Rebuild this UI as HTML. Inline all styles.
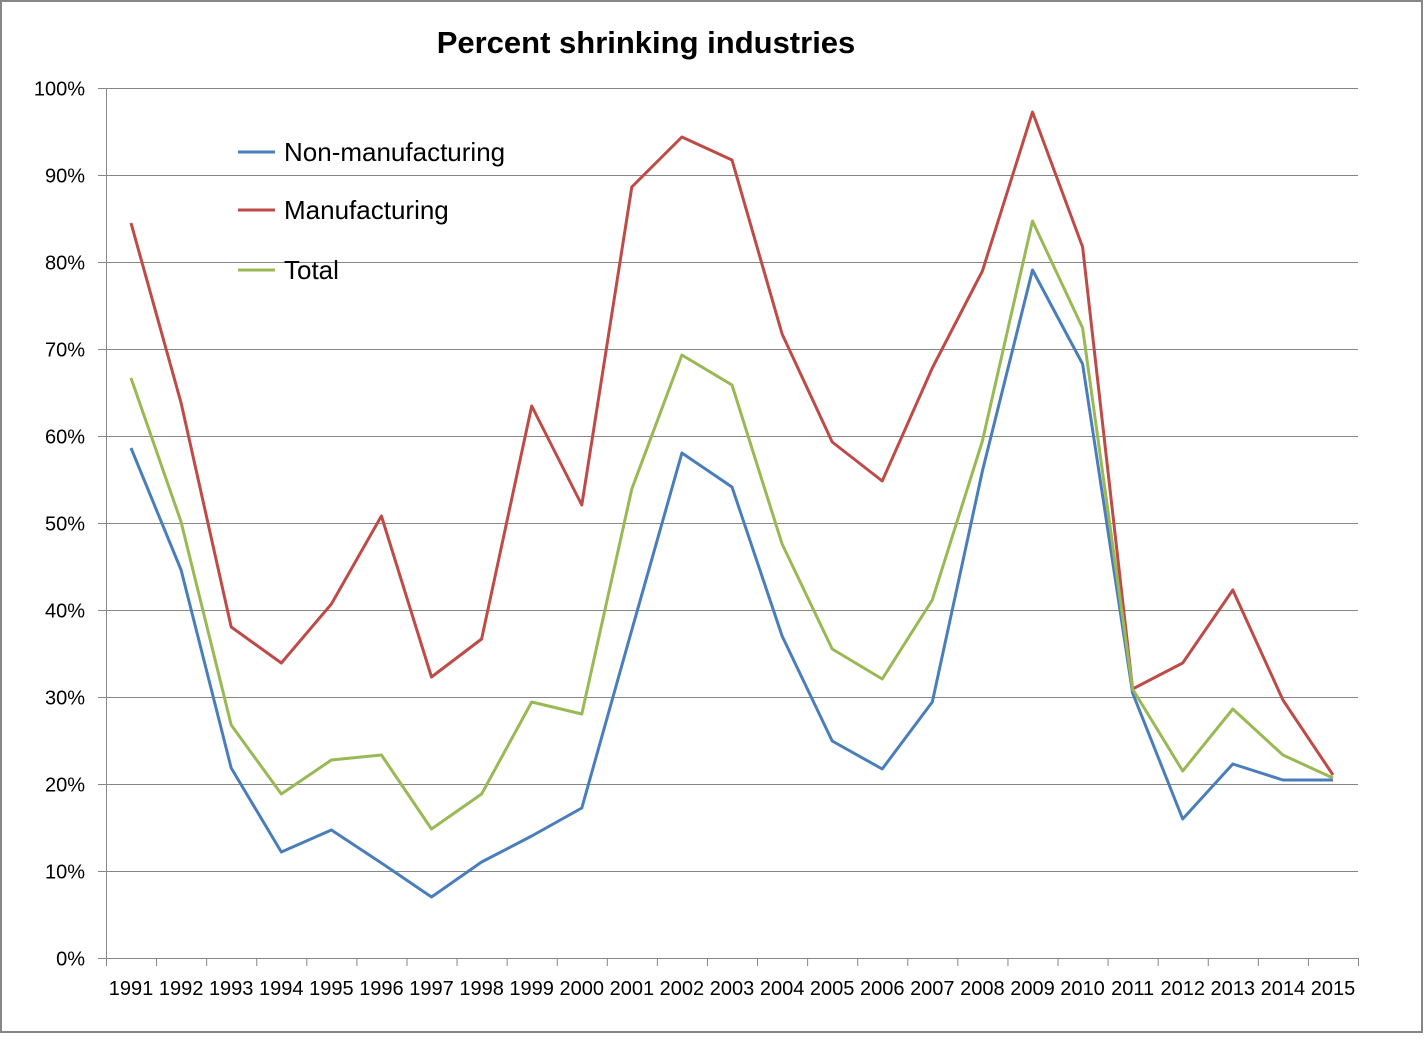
<!DOCTYPE html>
<html><head><meta charset="utf-8"><style>
html,body{margin:0;padding:0;background:#fff}
svg text{font-family:"Liberation Sans",Calibri,sans-serif}
</style></head><body>
<svg width="1424" height="1034" xmlns="http://www.w3.org/2000/svg">
<rect x="1" y="1" width="1421" height="1031" fill="#fff" stroke="#868686" stroke-width="2"/>
<text x="646" y="53" font-size="31" font-weight="bold" text-anchor="middle">Percent shrinking industries</text>
<g id="grid" stroke="#868686" stroke-width="1"></g>
<g id="lab" font-size="20" fill="#000"></g>
<g id="series" fill="none" stroke-width="3" stroke-linejoin="round"></g>
<g font-size="26">
<line x1="238" y1="152" x2="275" y2="152" stroke="#4a7ebb" stroke-width="3"/>
<text x="284" y="161">Non-manufacturing</text>
<line x1="238" y1="210" x2="275" y2="210" stroke="#be4b48" stroke-width="3"/>
<text x="284" y="219">Manufacturing</text>
<line x1="238" y1="270" x2="275" y2="270" stroke="#98b954" stroke-width="3"/>
<text x="284" y="279">Total</text>
</g>
</svg>
<script>
var NS="http://www.w3.org/2000/svg";
function el(p,t,a,txt){var e=document.createElementNS(NS,t);for(var k in a)e.setAttribute(k,a[k]);if(txt)e.textContent=txt;p.appendChild(e);return e;}
var g=document.getElementById("grid"),l=document.getElementById("lab"),s=document.getElementById("series");
var L=106,R=1358,T=88,B=958,step=(R-L)/25;
for(var i=0;i<=10;i++){var y=B-(B-T)*i/10+0.5;
 el(g,"line",{x1:98,y1:y,x2:R,y2:y});
 el(l,"text",{x:85,y:y+7,"text-anchor":"end"},(i*10)+"%");}
el(g,"line",{x1:L+0.5,y1:T,x2:L+0.5,y2:B});
for(var i=0;i<=25;i++){var x=L+step*i+0.5;el(g,"line",{x1:x,y1:B,x2:x,y2:966});}
for(var i=0;i<25;i++){el(l,"text",{x:L+step*(i+0.5),y:995,"text-anchor":"middle"},String(1991+i));}
var d={"#4a7ebb":[448,570,768,852,830,863,897,862,836,808,630,453,487,636,741,769,702,471,270,364,693,819,764,780,780],
"#be4b48":[223,403,627,663,604,516,677,639,406,505,187,137,160,334,442,481,368,271,112,247,689,663,590,700,775],
"#98b954":[378,522,725,794,760,755,829,794,702,714,489,355,385,544,649,679,600,441,221,328,689,771,709,755,778]};
var order=["#4a7ebb","#be4b48","#98b954"];
order.forEach(function(c){var pts=d[c].map(function(y,i){return (L+step*(i+0.5)).toFixed(1)+","+y;}).join(" ");
 el(s,"polyline",{points:pts,stroke:c});});
</script>
</body></html>
